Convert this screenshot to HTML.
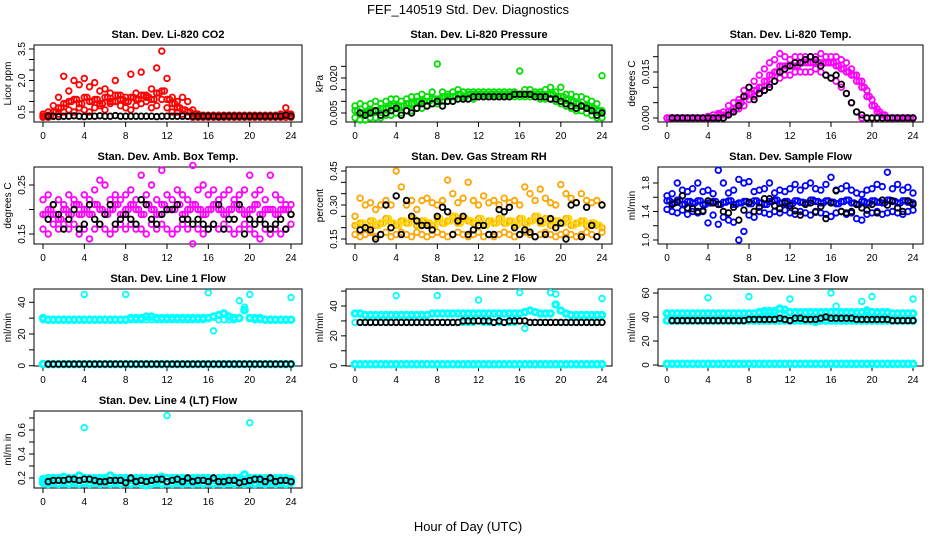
<!DOCTYPE html>
<html><head><meta charset="utf-8"><title>FEF_140519 Std. Dev. Diagnostics</title>
<style>
html,body{margin:0;padding:0;background:#fff;}
svg{display:block;font-family:"Liberation Sans",Arial,sans-serif;}
</style></head>
<body>
<svg id="chart" width="936" height="540" viewBox="0 0 936 540" xmlns="http://www.w3.org/2000/svg">
<rect width="936" height="540" fill="#fff"/>
<text x="468" y="14" text-anchor="middle" font-size="13">FEF_140519  Std. Dev. Diagnostics</text>
<text x="468" y="531" text-anchor="middle" font-size="13">Hour of Day (UTC)</text>
</svg>
<script>
// ---- shared hour categories ----
const hoursColored = [0,0.5,1,1.5,2,2.5,3,3.5,4,4.5,5,5.5,6,6.5,7,7.5,8,8.5,9,9.5,10,10.5,11,11.5,12,12.5,13,13.5,14,14.5,15,15.5,16,16.5,17,17.5,18,18.5,19,19.5,20,20.5,21,21.5,22,22.5,23,23.5,24];
const hoursOffset = [0.25,0.75,1.25,1.75,2.25,2.75,3.25,3.75,4.25,4.75,5.25,5.75,6.25,6.75,7.25,7.75,8.25,8.75,9.25,9.75,10.25,10.75,11.25,11.75,12.25,12.75,13.25,13.75,14.25,14.75,15.25,15.75,16.25,16.75,17.25,17.75,18.25,18.75,19.25,19.75,20.25,20.75,21.25,21.75,22.25,22.75,23.25,23.75];
const hoursBlack = [0.5,1,1.5,2,2.5,3,3.5,4,4.5,5,5.5,6,6.5,7,7.5,8,8.5,9,9.5,10,10.5,11,11.5,12,12.5,13,13.5,14,14.5,15,15.5,16,16.5,17,17.5,18,18.5,19,19.5,20,20.5,21,21.5,22,22.5,23,23.5,24];
const xTickLabels = ["0","4","8","12","16","20","24"];

// ---- CO2 ----
const co2Hi = [0.4,0.5,0.8,1.2,2.2,1.5,2.0,1.8,2.1,1.7,1.9,1.5,1.6,1.4,2.0,1.3,1.2,2.3,1.4,2.4,1.3,1.6,2.6,3.4,2.1,1.2,1.0,1.2,1.0,0.6,0.4,0.35,0.35,0.35,0.35,0.35,0.35,0.35,0.35,0.35,0.35,0.35,0.35,0.35,0.35,0.35,0.4,0.7,0.4];
const co2Mid = [0.3,0.35,0.5,0.7,0.9,1.0,1.1,0.9,1.2,1.0,1.1,0.9,1.2,1.0,1.3,1.1,1.0,1.2,1.1,1.3,1.2,1.1,1.4,1.5,1.1,0.9,0.7,0.6,0.5,0.4,0.3,0.3,0.3,0.3,0.3,0.3,0.3,0.3,0.3,0.3,0.3,0.3,0.3,0.3,0.3,0.3,0.3,0.4,0.3];
const co2Lo = [0.25,0.25,0.3,0.4,0.5,0.6,0.5,0.7,0.6,0.5,0.7,0.8,0.6,0.9,1.0,0.8,0.7,0.6,0.8,0.9,1.0,0.7,0.8,1.1,0.7,0.5,0.5,0.4,0.3,0.25,0.25,0.25,0.25,0.25,0.25,0.25,0.25,0.25,0.25,0.25,0.25,0.25,0.25,0.25,0.25,0.25,0.25,0.25,0.25];
const co2Black = [0.3,0.3,0.28,0.3,0.3,0.32,0.3,0.28,0.3,0.3,0.32,0.3,0.3,0.33,0.3,0.3,0.3,0.3,0.3,0.3,0.3,0.28,0.3,0.3,0.3,0.3,0.3,0.3,0.3,0.3,0.3,0.3,0.3,0.28,0.3,0.3,0.3,0.3,0.3,0.3,0.3,0.3,0.3,0.3,0.3,0.3,0.35,0.3];

// ---- Pressure ----
const presHi = [0.008,0.009,0.008,0.009,0.010,0.009,0.010,0.011,0.011,0.010,0.011,0.012,0.012,0.013,0.012,0.014,0.026,0.014,0.013,0.014,0.015,0.014,0.014,0.014,0.014,0.014,0.014,0.014,0.014,0.014,0.014,0.014,0.023,0.015,0.015,0.014,0.014,0.015,0.016,0.014,0.016,0.013,0.013,0.012,0.012,0.011,0.010,0.009,0.021];
const presMid = [0.006,0.005,0.005,0.006,0.006,0.007,0.007,0.008,0.008,0.008,0.009,0.009,0.010,0.010,0.010,0.011,0.011,0.012,0.012,0.012,0.013,0.012,0.013,0.013,0.013,0.013,0.013,0.013,0.013,0.013,0.013,0.013,0.013,0.013,0.013,0.013,0.013,0.013,0.013,0.012,0.012,0.011,0.010,0.009,0.008,0.008,0.007,0.006,0.006];
const presLo = [0.003,0.002,0.002,0.003,0.003,0.003,0.004,0.004,0.005,0.005,0.006,0.006,0.007,0.007,0.008,0.009,0.009,0.010,0.010,0.010,0.011,0.011,0.011,0.011,0.012,0.012,0.012,0.012,0.012,0.012,0.012,0.012,0.012,0.012,0.012,0.012,0.011,0.011,0.011,0.010,0.009,0.008,0.007,0.006,0.006,0.005,0.004,0.003,0.003];
const presBlack = [0.005,0.004,0.005,0.006,0.004,0.005,0.006,0.007,0.004,0.006,0.005,0.007,0.009,0.008,0.009,0.010,0.008,0.010,0.010,0.011,0.011,0.011,0.012,0.012,0.012,0.012,0.012,0.012,0.012,0.012,0.013,0.013,0.013,0.013,0.012,0.012,0.012,0.011,0.011,0.010,0.009,0.008,0.007,0.008,0.007,0.006,0.004,0.005];

// ---- Li-820 Temp ----
const tempHi = [0,0,0,0,0,0,0,0,0.0005,0.001,0.0015,0.002,0.004,0.005,0.006,0.009,0.010,0.012,0.014,0.016,0.018,0.019,0.021,0.020,0.019,0.020,0.020,0.020,0.020,0.020,0.021,0.020,0.020,0.020,0.019,0.018,0.016,0.014,0.012,0.009,0.006,0.003,0.001,0,0,0,0,0,0];
const tempMid = [0,0,0,0,0,0,0,0,0,0,0.001,0.001,0.002,0.003,0.005,0.007,0.008,0.009,0.010,0.012,0.014,0.015,0.017,0.017,0.017,0.017,0.018,0.018,0.018,0.018,0.018,0.018,0.018,0.017,0.016,0.015,0.014,0.012,0.010,0.007,0.004,0.002,0.001,0,0,0,0,0,0];
const tempLo = [0,0,0,0,0,0,0,0,0,0,0,0,0.001,0.002,0.003,0.004,0.006,0.007,0.008,0.009,0.011,0.012,0.013,0.014,0.014,0.015,0.015,0.015,0.015,0.016,0.015,0.014,0.013,0.012,0.010,0.008,0.005,0.002,0,0,0,0,0,0,0,0,0,0,0];
const tempBlack = [0,0,0,0,0,0,0,0,0,0,0,0.001,0.002,0.004,0.007,0.010,0.006,0.008,0.009,0.010,0.012,0.015,0.016,0.017,0.018,0.018,0.019,0.020,0.019,0.017,0.014,0.013,0.014,0.011,0.008,0.005,0.002,0.001,0,0,0,0,0,0,0,0,0,0];

// ---- Amb Box Temp ----
const ambHi = [0.22,0.23,0.21,0.22,0.21,0.23,0.22,0.21,0.23,0.22,0.24,0.26,0.25,0.22,0.23,0.22,0.23,0.24,0.22,0.27,0.23,0.25,0.22,0.28,0.23,0.22,0.24,0.23,0.22,0.29,0.24,0.25,0.23,0.24,0.22,0.23,0.24,0.22,0.23,0.24,0.27,0.23,0.24,0.22,0.27,0.23,0.22,0.21,0.21];
const ambMid = [0.19,0.20,0.19,0.18,0.20,0.19,0.21,0.19,0.20,0.19,0.21,0.20,0.19,0.20,0.21,0.19,0.20,0.21,0.20,0.19,0.21,0.20,0.19,0.21,0.20,0.20,0.21,0.19,0.20,0.21,0.20,0.19,0.20,0.21,0.20,0.19,0.20,0.21,0.20,0.19,0.20,0.21,0.19,0.20,0.20,0.19,0.20,0.20,0.19];
const ambLo = [0.16,0.15,0.17,0.16,0.17,0.16,0.17,0.15,0.16,0.14,0.16,0.17,0.16,0.15,0.16,0.17,0.16,0.17,0.16,0.16,0.15,0.17,0.16,0.17,0.16,0.15,0.16,0.17,0.16,0.13,0.16,0.15,0.16,0.17,0.16,0.17,0.16,0.15,0.16,0.17,0.16,0.15,0.14,0.16,0.15,0.16,0.15,0.16,0.17];
const ambBlack = [0.18,0.21,0.19,0.16,0.18,0.20,0.16,0.17,0.21,0.18,0.17,0.19,0.21,0.17,0.18,0.19,0.18,0.17,0.22,0.21,0.18,0.17,0.19,0.20,0.20,0.21,0.18,0.18,0.17,0.18,0.17,0.16,0.17,0.21,0.16,0.18,0.18,0.21,0.15,0.18,0.17,0.18,0.17,0.16,0.17,0.18,0.16,0.19];

// ---- Gas Stream RH ----
const rhHi = [0.25,0.33,0.30,0.31,0.28,0.30,0.32,0.30,0.45,0.38,0.30,0.32,0.28,0.32,0.33,0.31,0.30,0.32,0.41,0.35,0.31,0.33,0.40,0.32,0.30,0.34,0.31,0.32,0.30,0.33,0.31,0.32,0.30,0.38,0.35,0.32,0.37,0.33,0.31,0.30,0.39,0.35,0.33,0.31,0.35,0.32,0.31,0.32,0.30];
const rhMid = [0.21,0.22,0.20,0.23,0.21,0.22,0.24,0.22,0.21,0.23,0.22,0.24,0.21,0.23,0.22,0.21,0.24,0.22,0.23,0.25,0.22,0.24,0.23,0.22,0.24,0.21,0.23,0.22,0.24,0.22,0.23,0.21,0.24,0.22,0.23,0.25,0.22,0.24,0.21,0.23,0.22,0.24,0.21,0.22,0.23,0.21,0.22,0.21,0.20];
const rhLo = [0.17,0.16,0.17,0.18,0.16,0.17,0.18,0.16,0.17,0.18,0.17,0.16,0.18,0.17,0.16,0.17,0.18,0.17,0.16,0.17,0.18,0.17,0.16,0.17,0.18,0.16,0.17,0.16,0.17,0.18,0.17,0.16,0.17,0.18,0.17,0.16,0.17,0.18,0.17,0.16,0.17,0.18,0.17,0.16,0.17,0.18,0.17,0.16,0.18];
const rhBlack = [0.19,0.20,0.19,0.15,0.17,0.30,0.20,0.34,0.17,0.32,0.25,0.23,0.21,0.21,0.19,0.25,0.29,0.27,0.17,0.23,0.25,0.17,0.19,0.21,0.21,0.17,0.17,0.28,0.27,0.29,0.20,0.17,0.19,0.18,0.16,0.23,0.17,0.24,0.20,0.22,0.15,0.30,0.31,0.16,0.29,0.21,0.16,0.30];

// ---- Sample Flow ----
const sfHi = [1.62,1.65,1.80,1.70,1.68,1.72,1.80,1.68,1.70,1.65,1.98,1.80,1.66,1.70,1.85,1.80,1.82,1.68,1.70,1.72,1.80,1.66,1.70,1.68,1.72,1.78,1.70,1.76,1.80,1.72,1.70,1.78,1.88,1.70,1.72,1.76,1.70,1.66,1.64,1.70,1.72,1.78,1.75,1.95,1.72,1.78,1.70,1.74,1.66];
const sfMid = [1.55,1.52,1.56,1.50,1.54,1.52,1.55,1.50,1.52,1.54,1.50,1.53,1.55,1.50,1.52,1.54,1.51,1.55,1.52,1.50,1.54,1.56,1.52,1.54,1.51,1.55,1.53,1.52,1.56,1.54,1.52,1.55,1.53,1.51,1.54,1.56,1.52,1.50,1.54,1.52,1.55,1.53,1.52,1.56,1.54,1.52,1.55,1.53,1.52];
const sfLo = [1.43,1.40,1.38,1.42,1.36,1.40,1.38,1.40,1.24,1.35,1.22,1.32,1.28,1.25,1.00,1.12,1.35,1.32,1.40,1.38,1.36,1.40,1.38,1.42,1.38,1.36,1.40,1.38,1.35,1.40,1.38,1.36,1.33,1.38,1.40,1.36,1.38,1.30,1.28,1.36,1.38,1.40,1.36,1.38,1.40,1.38,1.36,1.40,1.42];
const sfBlack = [1.50,1.53,1.62,1.45,1.44,1.40,1.41,1.55,1.52,1.50,1.40,1.38,1.46,1.28,1.42,1.53,1.40,1.46,1.58,1.58,1.48,1.44,1.52,1.48,1.41,1.35,1.50,1.52,1.39,1.47,1.30,1.52,1.69,1.40,1.38,1.40,1.50,1.45,1.42,1.50,1.38,1.56,1.49,1.55,1.45,1.40,1.55,1.50];

// ---- Line 1 Flow ----
const l1Band = [30,29,29,29,29,29,29,29,29,29,29,29,29,29,29,29,29,30,30,30,31,31,30,30,30,30,30,30,30,30,30,30,30,31,32,33,31,30,30,35,30,30,30,29,29,29,29,29,29];
const l1Out = [29,29,29,29,29,29,29,29,45,29,29,29,29,29,29,29,45,29,29,29,29,29,29,29,29,29,29,29,29,29,29,29,46,22,29,29,29,29,41,37,45,29,29,29,29,29,29,29,43];
const l1Zero = [1,1,1,1,1,1,1,1,1,1,1,1,1,1,1,1,1,1,1,1,1,1,1,1,1,1,1,1,1,1,1,1,1,1,1,1,1,1,1,1,1,1,1,1,1,1,1,1,1];
const l1Black = [1,1,1,1,1,1,1,1,1,1,1,1,1,1,1,1,1,1,1,1,1,1,1,1,1,1,1,1,1,1,1,1,1,1,1,1,1,1,1,1,1,1,1,1,1,1,1,1];

// ---- Line 2 Flow ----
const l2Band = [35,35,34,34,34,34,34,34,34,34,34,34,34,34,34,35,35,35,35,35,35,35,35,35,35,35,35,35,35,35,35,35,35,36,37,36,35,35,35,41,37,35,34,34,34,34,34,34,34];
const l2Out = [29,29,29,29,29,29,29,29,47,29,29,29,29,29,29,29,47,29,29,29,29,29,29,29,44,29,29,29,29,29,29,29,49,25,29,29,29,29,49,48,29,29,29,29,29,29,29,29,45];
const l2Zero = [1,1,1,1,1,1,1,1,1,1,1,1,1,1,1,1,1,1,1,1,1,1,1,1,1,1,1,1,1,1,1,1,1,1,1,1,1,1,1,1,1,1,1,1,1,1,1,1,1];
const l2Black = [29,29,29,29,29,29,29,29,29,29,29,29,29,29,29,29,29,29,29,29,30,30,30,30,30,30,29,30,29,30,30,30,30,29,29,29,29,29,29,29,29,29,29,29,29,29,29,29];

// ---- Line 3 Flow ----
const l3Band = [43,43,43,43,43,43,43,43,43,43,43,43,43,43,43,43,43,43,44,45,45,45,47,46,44,44,44,44,44,44,44,44,44,44,44,44,44,44,44,44,44,44,44,44,43,43,43,43,43];
const l3Band2 = [37,37,37,37,37,37,37,37,37,37,37,37,37,37,37,37,37,37,37,37,37,37,37,37,37,37,37,37,37,36,37,37,37,37,37,37,37,37,37,37,37,37,37,37,37,37,37,37,37];
const l3Out = [43,43,43,43,43,43,43,43,56,43,43,43,43,43,43,43,57,43,43,43,43,43,43,43,55,43,43,43,43,43,43,43,60,49,43,43,43,43,53,46,57,43,43,43,43,43,43,43,55];
const l3Zero = [1,1,1,1,1,1,1,1,1,1,1,1,1,1,1,1,1,1,1,1,1,1,1,1,1,1,1,1,1,1,1,1,1,1,1,1,1,1,1,1,1,1,1,1,1,1,1,1,1];
const l3Black = [37,37,37,37,37,37,37,37,37,37,37,37,37,37,37,38,38,38,38,38,38,39,38,37,39,39,38,38,38,39,40,39,39,39,39,39,38,38,38,38,38,38,38,37,37,37,37,37];

// ---- Line 4 (LT) Flow ----
const l4Hi = [0.19,0.20,0.20,0.20,0.21,0.20,0.20,0.22,0.20,0.20,0.20,0.20,0.20,0.22,0.20,0.20,0.20,0.20,0.20,0.20,0.20,0.20,0.20,0.21,0.20,0.20,0.20,0.20,0.20,0.20,0.20,0.20,0.20,0.20,0.20,0.20,0.20,0.20,0.20,0.23,0.20,0.20,0.20,0.20,0.20,0.20,0.20,0.20,0.19];
const l4Lo = [0.16,0.15,0.16,0.15,0.16,0.15,0.16,0.15,0.16,0.15,0.16,0.15,0.16,0.15,0.16,0.15,0.16,0.15,0.16,0.15,0.14,0.15,0.16,0.15,0.16,0.15,0.16,0.15,0.16,0.15,0.16,0.15,0.16,0.15,0.16,0.15,0.16,0.15,0.16,0.15,0.16,0.15,0.16,0.15,0.16,0.15,0.16,0.15,0.16];
const l4Out = [0.18,0.18,0.18,0.18,0.18,0.18,0.18,0.18,0.62,0.18,0.18,0.18,0.18,0.18,0.18,0.18,0.18,0.18,0.18,0.18,0.18,0.18,0.18,0.18,0.72,0.18,0.18,0.18,0.18,0.18,0.18,0.18,0.18,0.18,0.18,0.18,0.18,0.18,0.18,0.18,0.66,0.18,0.18,0.18,0.18,0.18,0.18,0.18,0.18];
const l4Black = [0.17,0.18,0.18,0.18,0.19,0.19,0.18,0.19,0.19,0.18,0.17,0.17,0.18,0.18,0.18,0.16,0.20,0.17,0.18,0.17,0.18,0.19,0.19,0.17,0.18,0.19,0.17,0.20,0.17,0.18,0.18,0.17,0.20,0.17,0.17,0.18,0.18,0.16,0.17,0.18,0.19,0.19,0.17,0.20,0.17,0.18,0.18,0.17];

// ---- layout (not data) ----
const NS = "http://www.w3.org/2000/svg";
const svg = document.getElementById("chart");
const cols = [{bx0:34,bx1:302,x0:43,x24:291},{bx0:346,bx1:612,x0:355,x24:602},{bx0:658,bx1:923,x0:667,x24:913}];
const rowTops = [45,167,289,411];
const BOXH = 77;

function mk(tag, attrs, parent){
  const el = document.createElementNS(NS, tag);
  for (const k in attrs) el.setAttribute(k, attrs[k]);
  (parent || svg).appendChild(el);
  return el;
}

function panel(cfg){
  const c = cols[cfg.col], top = rowTops[cfg.row], bot = top + BOXH;
  const g = mk("g", {});
  
  
  const sx = h => c.x0 + (c.x24 - c.x0) * h / 24;
  const sy = v => cfg.p0 + (v - cfg.v0) * (cfg.p1 - cfg.p0) / (cfg.v1 - cfg.v0);
  const t = mk("text", {x:(c.bx0+c.bx1)/2, y:top-7, "text-anchor":"middle", "font-size":"11", "font-weight":"bold"}, g);
  t.textContent = cfg.title;
  
  
  const box = mk("rect", {x:c.bx0, y:top, width:c.bx1-c.bx0, height:BOXH, fill:"none", stroke:"#000", "stroke-width":"1"}, g);
  
  
  const xa = mk("g", {}, g);
  
  
  mk("line", {x1:sx(0), x2:sx(24), y1:bot, y2:bot, stroke:"#000"}, xa);
  xTickLabels.forEach(lab => {
    const h = parseFloat(lab);
    mk("line", {x1:sx(h), x2:sx(h), y1:bot, y2:bot+5, stroke:"#000"}, xa);
    const tl = mk("text", {x:sx(h), y:bot+17, "text-anchor":"middle", "font-size":"10"}, xa);
    tl.textContent = lab;
    
    
  });
  const ya = mk("g", {}, g);
  
  
  const ax = c.bx0;
  mk("line", {x1:ax, x2:ax, y1:sy(cfg.ticks[0]), y2:sy(cfg.ticks[cfg.ticks.length-1]), stroke:"#000"}, ya);
  cfg.ticks.forEach((v,i) => {
    mk("line", {x1:ax-5, x2:ax, y1:sy(v), y2:sy(v), stroke:"#000"}, ya);
    const lab = cfg.labels[i];
    if (lab) {
      const tx = ax - 9, ty = sy(v);
      const tl = mk("text", {x:tx, y:ty, "text-anchor":"middle", "font-size":"10", transform:`rotate(-90 ${tx} ${ty})`}, ya);
      tl.textContent = lab;
      
      
    }
  });
  const yx = c.bx0 - 23, yy = top + BOXH/2;
  const yt = mk("text", {x:yx, y:yy, "text-anchor":"middle", "font-size":"10", transform:`rotate(-90 ${yx} ${yy})`}, g);
  yt.textContent = cfg.ylab;
  
  
  cfg.series.forEach(s => {
    const sg = mk("g", {fill:"none", stroke:s.color, "stroke-width":s.sw || 1.8}, g);
    
    
    const n = Math.min(s.t.length, s.v.length);
    for (let i = 0; i < n; i++) {
      const pt = mk("circle", {cx:sx(s.t[i]).toFixed(1), cy:sy(s.v[i]).toFixed(1), r:2.8}, sg);
      
      
    }
  });
}

const RED="#ff0000", GRN="#00e000", MAG="#ff00ff", ORG="#ffa500", BLU="#0000ff", CYN="#00ffff", BLK="#000000";
const YEL="#ffd700";

panel({name:"co2", title:"Stan. Dev. Li-820 CO2", col:0,row:0, v0:0.5,p0:112,v1:3.5,p1:49,
  ticks:[0.5,1,1.5,2,2.5,3,3.5], labels:["0.5","","","2.0","","","3.5"], ylab:"Licor ppm",
  series:[{name:"red-hi",t:hoursColored,v:co2Hi,color:RED},{name:"red-mid",t:hoursColored,v:co2Mid,color:RED},{name:"red-mid-offset",t:hoursOffset,v:co2Mid,color:RED},{name:"red-lo",t:hoursColored,v:co2Lo,color:RED},{name:"black",t:hoursBlack,v:co2Black,color:BLK}]});
panel({name:"pressure", title:"Stan. Dev. Li-820 Pressure", col:1,row:0, v0:0.005,p0:113,v1:0.020,p1:78,
  ticks:[0.005,0.01,0.015,0.02,0.025], labels:["0.005","","","0.020",""], ylab:"kPa",
  series:[{name:"green-hi",t:hoursColored,v:presHi,color:GRN},{name:"green-mid",t:hoursColored,v:presMid,color:GRN},{name:"green-mid-offset",t:hoursOffset,v:presMid,color:GRN},{name:"green-lo",t:hoursColored,v:presLo,color:GRN},{name:"black",t:hoursBlack,v:presBlack,color:BLK}]});
panel({name:"li820-temp", title:"Stan. Dev. Li-820 Temp.", col:2,row:0, v0:0,p0:118,v1:0.015,p1:72,
  ticks:[0,0.005,0.01,0.015,0.02], labels:["0.000","","","0.015",""], ylab:"degrees C",
  series:[{name:"magenta-hi",t:hoursColored,v:tempHi,color:MAG},{name:"magenta-mid",t:hoursColored,v:tempMid,color:MAG},{name:"magenta-mid-offset",t:hoursOffset,v:tempMid,color:MAG},{name:"magenta-lo",t:hoursColored,v:tempLo,color:MAG},{name:"black",t:hoursBlack,v:tempBlack,color:BLK}]});
panel({name:"amb-box-temp", title:"Stan. Dev. Amb. Box Temp.", col:0,row:1, v0:0.15,p0:234,v1:0.25,p1:185,
  ticks:[0.15,0.2,0.25], labels:["0.15","","0.25"], ylab:"degrees C",
  series:[{name:"magenta-hi",t:hoursColored,v:ambHi,color:MAG},{name:"magenta-mid",t:hoursColored,v:ambMid,color:MAG},{name:"magenta-mid-offset",t:hoursOffset,v:ambMid,color:MAG},{name:"magenta-lo",t:hoursColored,v:ambLo,color:MAG},{name:"black",t:hoursBlack,v:ambBlack,color:BLK}]});
panel({name:"gas-stream-rh", title:"Stan. Dev. Gas Stream RH", col:1,row:1, v0:0.15,p0:239,v1:0.45,p1:171,
  ticks:[0.15,0.2,0.25,0.3,0.35,0.4,0.45], labels:["0.15","","","0.30","","","0.45"], ylab:"percent",
  series:[{name:"orange-hi",t:hoursColored,v:rhHi,color:ORG},{name:"orange-mid",t:hoursColored,v:rhMid,color:ORG},{name:"yellow-mid-offset",t:hoursOffset,v:rhMid,color:YEL,sw:2.2},{name:"orange-lo",t:hoursColored,v:rhLo,color:ORG},{name:"black",t:hoursBlack,v:rhBlack,color:BLK}]});
panel({name:"sample-flow", title:"Stan. Dev. Sample Flow", col:2,row:1, v0:1.0,p0:240,v1:1.8,p1:183,
  ticks:[1.0,1.2,1.4,1.6,1.8], labels:["1.0","","1.4","","1.8"], ylab:"ml/min",
  series:[{name:"blue-hi",t:hoursColored,v:sfHi,color:BLU},{name:"blue-mid",t:hoursColored,v:sfMid,color:BLU},{name:"blue-mid-offset",t:hoursOffset,v:sfMid,color:BLU},{name:"blue-lo",t:hoursColored,v:sfLo,color:BLU},{name:"black",t:hoursBlack,v:sfBlack,color:BLK}]});
panel({name:"line1-flow", title:"Stan. Dev. Line 1 Flow", col:0,row:2, v0:0,p0:365.7,v1:40,p1:302.3,
  ticks:[0,10,20,30,40], labels:["0","","20","","40"], ylab:"ml/min",
  series:[{name:"cyan-band",t:hoursColored,v:l1Band,color:CYN,sw:3},{name:"cyan-outliers",t:hoursColored,v:l1Out,color:CYN},{name:"cyan-zero",t:hoursColored,v:l1Zero,color:CYN,sw:3},{name:"black",t:hoursBlack,v:l1Black,color:BLK}]});
panel({name:"line2-flow", title:"Stan. Dev. Line 2 Flow", col:1,row:2, v0:0,p0:365.7,v1:40,p1:306,
  ticks:[0,10,20,30,40,50], labels:["0","","20","","40",""], ylab:"ml/min",
  series:[{name:"cyan-band",t:hoursColored,v:l2Band,color:CYN,sw:3},{name:"cyan-outliers",t:hoursColored,v:l2Out,color:CYN},{name:"cyan-zero",t:hoursColored,v:l2Zero,color:CYN,sw:3},{name:"black",t:hoursBlack,v:l2Black,color:BLK}]});
panel({name:"line3-flow", title:"Stan. Dev. Line 3 Flow", col:2,row:2, v0:0,p0:365,v1:60,p1:293,
  ticks:[0,20,40,60], labels:["0","20","40","60"], ylab:"ml/min",
  series:[{name:"cyan-band",t:hoursColored,v:l3Band,color:CYN,sw:3},{name:"cyan-band-low",t:hoursColored,v:l3Band2,color:CYN,sw:3},{name:"cyan-outliers",t:hoursColored,v:l3Out,color:CYN},{name:"cyan-zero",t:hoursColored,v:l3Zero,color:CYN,sw:3},{name:"black",t:hoursBlack,v:l3Black,color:BLK}]});
panel({name:"line4-lt-flow", title:"Stan. Dev. Line 4 (LT) Flow", col:0,row:3, v0:0.2,p0:478,v1:0.6,p1:430,
  ticks:[0.2,0.3,0.4,0.5,0.6,0.7], labels:["0.2","","0.4","","0.6",""], ylab:"ml/m in",
  series:[{name:"cyan-hi",t:hoursColored,v:l4Hi,color:CYN,sw:3},{name:"cyan-lo",t:hoursColored,v:l4Lo,color:CYN,sw:3},{name:"cyan-outliers",t:hoursColored,v:l4Out,color:CYN},{name:"black",t:hoursBlack,v:l4Black,color:BLK}]});
</script>
</body></html>
